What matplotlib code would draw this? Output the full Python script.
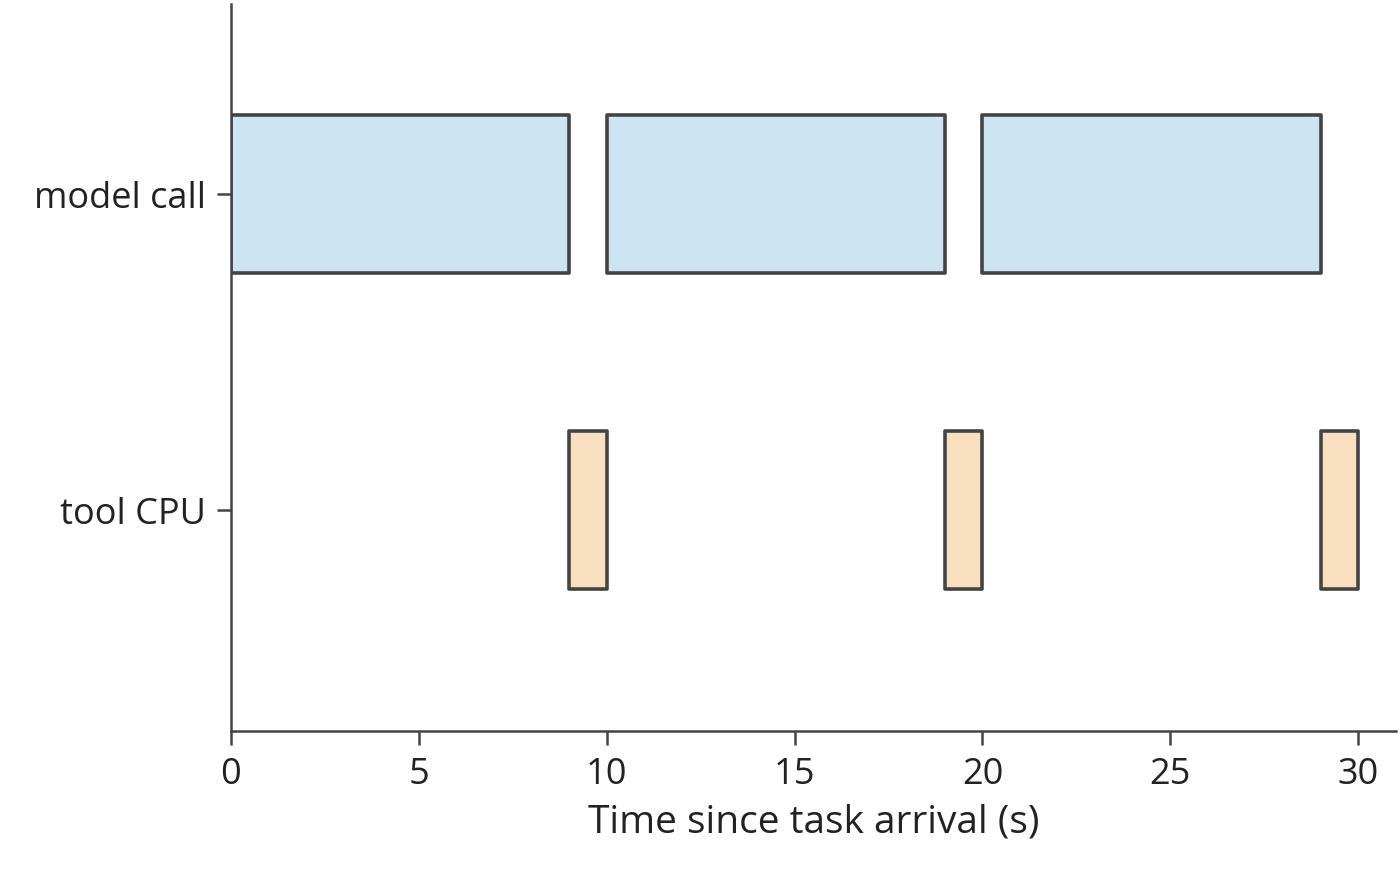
import matplotlib.pyplot as plt

# Timeline segments (start, duration) in seconds
rows = ["tool CPU", "model call"]
model_starts = [0, 10, 20]
model_durations = [9, 9, 9]
tool_starts = [9, 19, 29]
tool_durations = [1, 1, 1]

plt.rcParams['font.family'] = ['Open Sans', 'DejaVu Sans']
fig = plt.figure(figsize=(14, 8.7), dpi=100)
ax = fig.add_axes([0.165, 0.159, 0.832, 0.835])

edge = "#444444"
ax.broken_barh(list(zip(model_starts, model_durations)), (0.75, 0.5),
               facecolors="#cde4f3", edgecolors=edge, linewidth=2.6)
ax.broken_barh(list(zip(tool_starts, tool_durations)), (-0.25, 0.5),
               facecolors="#f8dfc0", edgecolors=edge, linewidth=2.6)

ax.set_xlim(0, 31)
ax.set_ylim(-0.7, 1.6)
ax.set_yticks([0, 1])
ax.set_yticklabels(rows)
ax.set_xticks([0, 5, 10, 15, 20, 25, 30])
ax.set_xlabel("Time since task arrival (s)", fontsize=28, color="#222222", labelpad=8)
ax.tick_params(labelsize=26, colors="#222222", length=10, width=1.8, color=edge, pad=8)
for s in ["top", "right"]:
    ax.spines[s].set_visible(False)
for s in ["left", "bottom"]:
    ax.spines[s].set_color(edge)
    ax.spines[s].set_linewidth(1.8)

fig.savefig("out.png", dpi=100)
